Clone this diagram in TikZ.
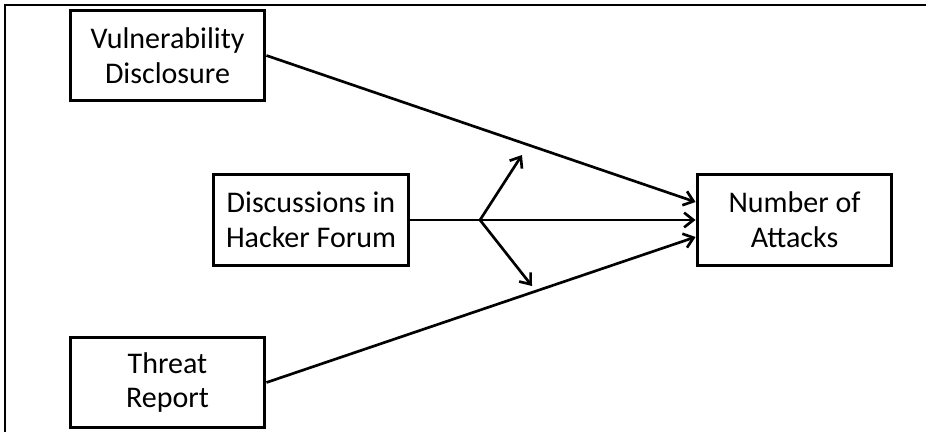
\documentclass[tikz,border=0pt]{standalone}
\usepackage{fontspec}
\setmainfont{Carlito}
\usetikzlibrary{arrows.meta, positioning}

\begin{document}
\begin{tikzpicture}[x=0.75pt, y=-0.75pt, >={Straight Barb[length=7pt, width=11pt, line width=2pt]}, line width=2pt]

  % Stili dei nodi
  \tikzstyle{factor} = [rectangle, draw=black, line width=2.4pt, minimum width=146pt, minimum height=68pt, align=center, inner sep=0pt, font=\fontsize{22.5}{26}\selectfont]
  \tikzstyle{frame} = [line width=1.8pt]

  \useasboundingbox (0,0) rectangle (926,432);

  % Cornice
  \draw[frame] (5,440) -- (5,5) -- (935,5);

  % Nodi
  \node[factor] (vuln) at (167.5,55.5) {Vulnerability\\Disclosure};
  \node[factor] (forum) at (311,220) {Discussions in\\Hacker Forum};
  \node[factor] (threat) at (167.5,382.5) {Threat\\Report};
  \node[factor] (attacks) at (794.5,220) {Number of\\Attacks};

  \coordinate (fork) at (480,220);
  \coordinate (up) at (522,155);
  \coordinate (down) at (532,286);

  % Frecce
  \draw[->] (vuln.east) -- ([yshift=13.5pt]attacks.west);
  \draw[->] (threat.east) -- ([yshift=-12.75pt]attacks.west);
  \draw[->] (forum.east) -- (attacks.west);
  \draw[->] (fork) -- (up);
  \draw[->] (fork) -- (down);

\end{tikzpicture}
\end{document}
